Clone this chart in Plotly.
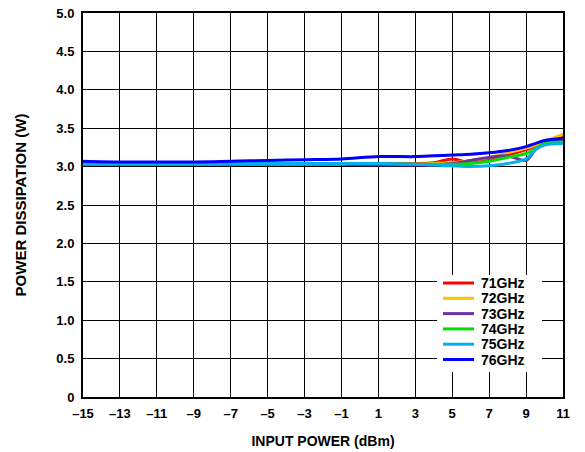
import plotly.graph_objects as go

x_dbm = [-15, -13, -11, -9, -7, -5, -3, -1, 1, 3, 4, 5, 6, 7, 8, 9, 9.5, 10, 11]
p71 = [3.05, 3.04, 3.04, 3.04, 3.04, 3.04, 3.04, 3.04, 3.04, 3.04, 3.05, 3.10, 3.05, 3.09, 3.15, 3.22, 3.27, 3.32, 3.39]
p72 = [3.04, 3.04, 3.04, 3.04, 3.04, 3.04, 3.04, 3.04, 3.03, 3.03, 3.04, 3.05, 3.08, 3.12, 3.18, 3.24, 3.28, 3.33, 3.42]
p73 = [3.03, 3.03, 3.03, 3.03, 3.03, 3.03, 3.03, 3.03, 3.02, 3.02, 3.02, 3.04, 3.08, 3.12, 3.14, 3.08, 3.22, 3.30, 3.35]
p74 = [3.04, 3.04, 3.04, 3.04, 3.04, 3.04, 3.04, 3.04, 3.04, 3.03, 3.03, 3.03, 3.04, 3.07, 3.12, 3.17, 3.23, 3.30, 3.32]
p75 = [3.04, 3.04, 3.04, 3.04, 3.04, 3.04, 3.04, 3.04, 3.04, 3.03, 3.02, 3.01, 3.00, 3.01, 3.04, 3.10, 3.22, 3.28, 3.30]
p76 = [3.07, 3.06, 3.06, 3.06, 3.07, 3.08, 3.09, 3.10, 3.13, 3.13, 3.14, 3.15, 3.16, 3.18, 3.21, 3.26, 3.30, 3.34, 3.37]

names = ["71GHz", "72GHz", "73GHz", "74GHz", "75GHz", "76GHz"]
values = [p71, p72, p73, p74, p75, p76]
colors = ["#ff0000", "#ffbf00", "#7030a0", "#00e000", "#00b0f0", "#0000ff"]

x_ticks = list(range(-15, 12, 2))
x_ticktext = [("\u2013" + str(-v)) if v < 0 else str(v) for v in x_ticks]
y_ticks = [0, 0.5, 1.0, 1.5, 2.0, 2.5, 3.0, 3.5, 4.0, 4.5, 5.0]
y_ticktext = ["0", "0.5", "1.0", "1.5", "2.0", "2.5", "3.0", "3.5", "4.0", "4.5", "5.0"]

FONT = "Liberation Sans, Arial, sans-serif"

fig = go.Figure()
for name, vals, col in zip(names, values, colors):
    fig.add_trace(go.Scatter(x=x_dbm, y=vals, name=name, mode="lines", showlegend=False,
                             line=dict(color=col, width=3, shape="spline", smoothing=0.8)))

W, H = 585, 452
# plot area in page pixels: x 83..563, y 13..397
L, R, T, B = 83, 22, 13, 55
pw, ph = W - L - R, H - T - B

def px_x(p):
    return (p - L) / pw

def px_y(p):
    return (H - B - p) / ph

shapes = [dict(type="rect", xref="paper", yref="paper",
               x0=px_x(437), x1=px_x(542), y0=px_y(372), y1=px_y(275),
               fillcolor="white", line=dict(width=0), layer="above")]
annotations = []
for i, (name, col) in enumerate(zip(names, colors)):
    cy = px_y(283 + 15.3 * i)
    shapes.append(dict(type="line", xref="paper", yref="paper",
                       x0=px_x(443), x1=px_x(474), y0=cy, y1=cy,
                       line=dict(color=col, width=3), layer="above"))
    annotations.append(dict(text=name, xref="paper", yref="paper", x=px_x(479), y=cy,
                            xanchor="left", yanchor="middle", showarrow=False,
                            font=dict(family=FONT, size=14, color="black", weight="bold")))

fig.update_layout(
    width=W, height=H,
    margin=dict(l=L, r=R, t=T, b=B, autoexpand=False),
    paper_bgcolor="white", plot_bgcolor="white",
    font=dict(family=FONT, size=13, color="black"),
    showlegend=False,
    shapes=shapes, annotations=annotations,
)
fig.update_xaxes(range=[-15, 11], tickvals=x_ticks, ticktext=x_ticktext,
                 showgrid=True, gridcolor="black", gridwidth=1,
                 showline=True, linecolor="black", linewidth=2, mirror=True,
                 zeroline=False, ticks="", automargin=False, ticklabelstandoff=3,
                 tickfont=dict(family=FONT, size=13, weight="bold", color="black"),
                 title=dict(text="INPUT POWER (dBm)", font=dict(family=FONT, size=14, weight="bold", color="black"), standoff=17))
fig.update_yaxes(range=[0, 5], tickvals=y_ticks, ticktext=y_ticktext,
                 showgrid=True, gridcolor="black", gridwidth=1,
                 showline=True, linecolor="black", linewidth=2, mirror=True,
                 zeroline=False, ticks="", automargin=False, ticklabelstandoff=4,
                 tickfont=dict(family=FONT, size=13, weight="bold", color="black"),
                 title=dict(text="POWER DISSIPATION (W)", font=dict(family=FONT, size=15, weight="bold", color="black"), standoff=26))
fig.write_html("out.html", config={"displayModeBar": False},
               post_script="document.body.style.margin='0';")
